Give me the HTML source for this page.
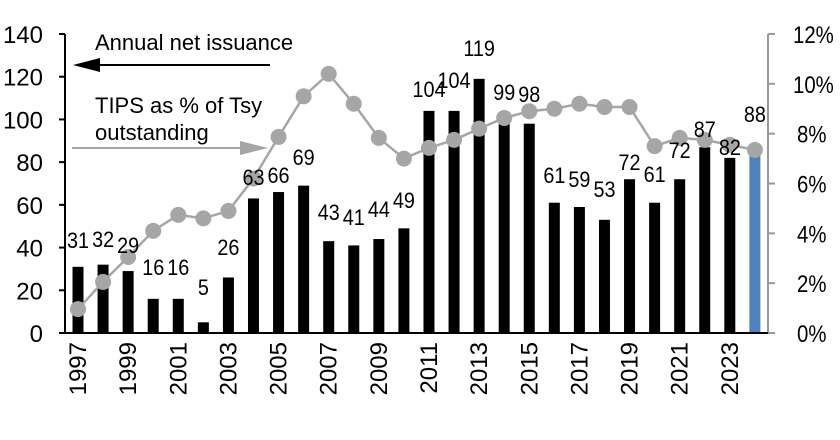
<!DOCTYPE html>
<html><head><meta charset="utf-8"><style>
html,body{margin:0;padding:0;background:#fff}
svg text{font-family:"Liberation Sans",Arial,sans-serif;fill:#000}
</style></head><body>
<svg width="840" height="435" viewBox="0 0 840 435" xmlns="http://www.w3.org/2000/svg">
</svg>
<script>
const svg=document.querySelector('svg');
const NS='http://www.w3.org/2000/svg';
function el(t,a,txt){const e=document.createElementNS(NS,t);for(const k in a)e.setAttribute(k,a[k]);if(txt!==undefined)e.textContent=txt;svg.appendChild(e);return e;}
const y0=333, ppu=299/140;
const vals=[31,32,29,16,16,5,26,63,66,69,43,41,44,49,104,104,119,99,98,61,59,53,72,61,72,87,82,88];
const pct=[0.96,2.05,3.05,4.1,4.74,4.6,4.9,6.2,7.87,9.5,10.4,9.2,7.83,7.0,7.43,7.75,8.2,8.63,8.9,9.0,9.2,9.07,9.07,7.5,7.83,7.75,7.55,7.35];
const lab=[248,247,253,275,275,295,255,185,183,165,220,225,217,208,97,88,56,100,102,183,187,197,170,182,158,137,155,122];
const xc=i=>78+i*25.07;
el('line',{x1:65,y1:34,x2:65,y2:y0,stroke:'#000','stroke-width':2});
for(let v=0;v<=140;v+=20){const y=y0-v*ppu;el('line',{x1:59,y1:y,x2:65,y2:y,stroke:'#000','stroke-width':2});el('text',{x:43,y:y+9,'font-size':24,'text-anchor':'end'},v);}
el('line',{x1:768,y1:34,x2:768,y2:y0,stroke:'#999','stroke-width':2});
for(let p=0;p<=12;p+=2){const y=y0-p*299/12;el('line',{x1:768,y1:y,x2:775,y2:y,stroke:'#999','stroke-width':2});el('text',{'font-size':24,transform:`translate(${p>=10?793:797},${y+9}) scale(0.85,1)`},p+'%');}
vals.forEach((v,i)=>{const h=v*ppu;el('rect',{x:xc(i)-5.5,y:y0-h,width:11,height:h,fill:i==27?'#4f81bd':'#000'});});
el('line',{x1:64,y1:y0,x2:768,y2:y0,stroke:'#000','stroke-width':2});
let d='';pct.forEach((p,i)=>{d+=(i?'L':'M')+xc(i)+','+(y0-p*299/12);});
el('path',{d:d,fill:'none',stroke:'#a6a6a6','stroke-width':2.5});
pct.forEach((p,i)=>el('circle',{cx:xc(i),cy:y0-p*299/12,r:8,fill:'#a6a6a6'}));
vals.forEach((v,i)=>el('text',{'font-size':22,'text-anchor':'middle',transform:`translate(${xc(i)},${lab[i]}) scale(0.9,1)`},v));
for(let i=0;i<28;i+=2){const x=xc(i)+8;el('text',{x:x,y:342,'font-size':24,'text-anchor':'end',transform:`rotate(-90 ${x} 342)`},1997+i);}
el('text',{x:95,y:50,'font-size':22},'Annual net issuance');
el('line',{x1:270,y1:65,x2:92,y2:65,stroke:'#000','stroke-width':2});
el('path',{d:'M73,65 L100,58 L100,72 Z',fill:'#000'});
el('text',{x:95,y:113,'font-size':22},'TIPS as % of Tsy');
el('text',{x:95,y:140,'font-size':22},'outstanding');
el('line',{x1:72,y1:148,x2:250,y2:148,stroke:'#a6a6a6','stroke-width':2});
el('path',{d:'M268,148 L240,141 L240,155 Z',fill:'#a6a6a6'});
</script>
</body></html>
